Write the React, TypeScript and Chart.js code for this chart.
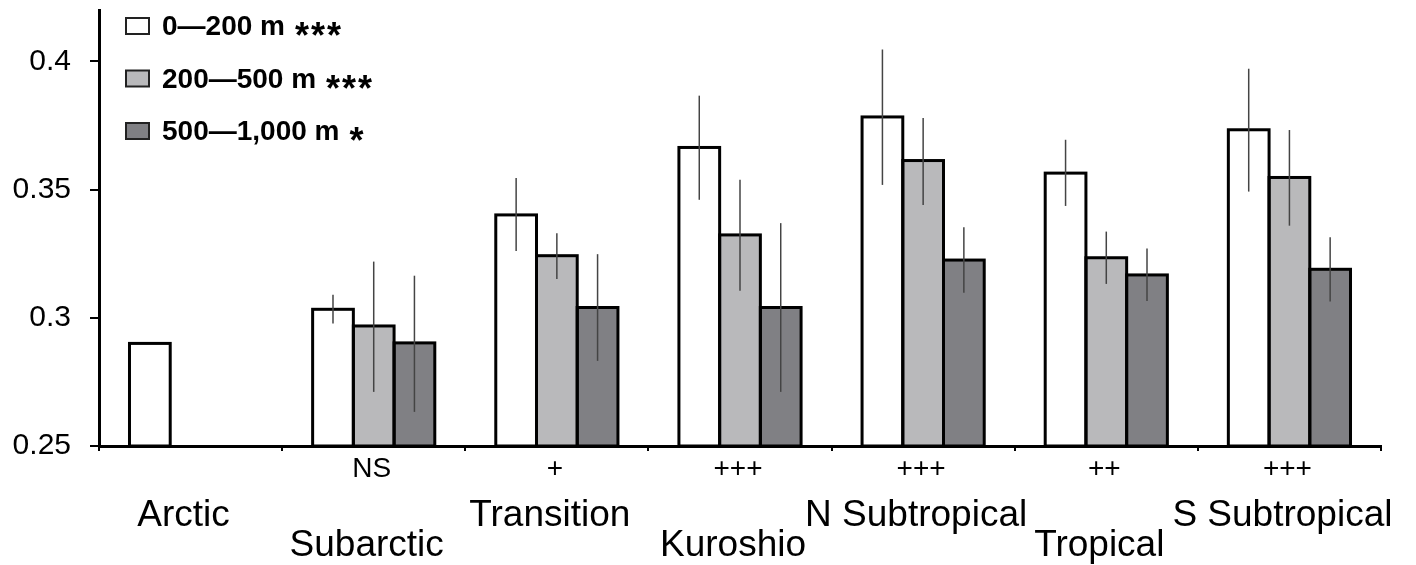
import React, { useEffect, useRef } from "react";
import { Chart, registerables } from "chart.js";

Chart.register(...registerables);

const categories = ["Arctic", "Subarctic", "Transition", "Kuroshio", "N Subtropical", "Tropical", "S Subtropical"];
const significance = ["", "NS", "+", "+++", "+++", "++", "+++"];

const seriesNames = ["0\u2014200 m", "200\u2014500 m", "500\u20141,000 m"];
const seriesStars = ["***", "***", "*"];
const seriesColors = ["#ffffff", "#b9b9bb", "#808084"];

const shallow = [0.29, 0.3033, 0.3401, 0.3664, 0.3783, 0.3564, 0.3733];
const shallowLow = [null, 0.2978, 0.326, 0.346, 0.3518, 0.3436, 0.3492];
const shallowHigh = [null, 0.309, 0.3545, 0.3866, 0.4046, 0.3694, 0.3971];

const middle = [null, 0.2968, 0.3242, 0.3323, 0.3613, 0.3234, 0.3547];
const middleLow = [null, 0.2711, 0.3151, 0.3105, 0.344, 0.3132, 0.3359];
const middleHigh = [null, 0.3219, 0.333, 0.3538, 0.3779, 0.3336, 0.3732];

const deep = [null, 0.2902, 0.304, 0.304, 0.3225, 0.3167, 0.3189];
const deepLow = [null, 0.2633, 0.2832, 0.2711, 0.3098, 0.3065, 0.3063];
const deepHigh = [null, 0.3164, 0.3248, 0.3369, 0.3353, 0.327, 0.3314];

const yTicks = [0.25, 0.3, 0.35, 0.4];
const yTickLabels = ["0.25", "0.3", "0.35", "0.4"];
const yMin = 0.25;
const yMax = 0.42;

const FONT = "'Liberation Sans', Arial, Helvetica, sans-serif";

const errorLows = [shallowLow, middleLow, deepLow];
const errorHighs = [shallowHigh, middleHigh, deepHigh];

const barsPlugin = {
  id: "barsOutlineErrors",
  afterDatasetsDraw(chart: any) {
    const ctx = chart.ctx;
    const yScale = chart.scales.y;
    const basePx = yScale.getPixelForValue(yMin);
    ctx.save();
    // outlines
    chart.data.datasets.forEach((ds: any, di: number) => {
      const meta = chart.getDatasetMeta(di);
      meta.data.forEach((bar: any, i: number) => {
        if (ds.data[i] == null) return;
        const p = bar.getProps(["x", "y", "width"], true);
        ctx.lineWidth = 3;
        ctx.strokeStyle = "#000";
        ctx.strokeRect(p.x - p.width / 2, p.y, p.width, basePx - p.y);
      });
    });
    // error bars
    chart.data.datasets.forEach((ds: any, di: number) => {
      const meta = chart.getDatasetMeta(di);
      meta.data.forEach((bar: any, i: number) => {
        const lo = errorLows[di][i];
        const hi = errorHighs[di][i];
        if (ds.data[i] == null || lo == null || hi == null) return;
        const p = bar.getProps(["x"], true);
        ctx.lineWidth = 1.5;
        ctx.strokeStyle = "#444";
        ctx.beginPath();
        ctx.moveTo(p.x, yScale.getPixelForValue(hi));
        ctx.lineTo(p.x, yScale.getPixelForValue(lo));
        ctx.stroke();
      });
    });
    ctx.restore();
  },
};

const labelsPlugin = {
  id: "customLabels",
  afterDraw(chart: any) {
    const ctx = chart.ctx;
    const xScale = chart.scales.x;
    const area = chart.chartArea;
    ctx.save();
    ctx.fillStyle = "#000";
    ctx.textAlign = "center";
    ctx.textBaseline = "alphabetic";
    categories.forEach((name, i) => {
      const cx = xScale.getPixelForValue(i);
      if (significance[i]) {
        ctx.font = `28px ${FONT}`;
        ctx.fillText(significance[i], cx - 2, area.bottom + 31);
      }
      ctx.font = `37px ${FONT}`;
      const row = i % 2 === 0 ? 0 : 1;
      ctx.fillText(name, cx - 7, area.bottom + (row === 0 ? 80 : 110));
    });

    // legend
    ctx.textAlign = "left";
    const boxX = area.left + 27;
    chart.data.datasets.forEach((ds: any, di: number) => {
      const baseline = area.top + 25 + di * 52.5;
      ctx.fillStyle = ds.backgroundColor;
      ctx.fillRect(boxX, baseline - 17, 23, 16);
      ctx.lineWidth = 2;
      ctx.strokeStyle = "#222";
      ctx.strokeRect(boxX, baseline - 17, 23, 16);
      ctx.fillStyle = "#000";
      ctx.font = `bold 28px ${FONT}`;
      const tx = boxX + 36;
      ctx.fillText(ds.label, tx, baseline);
      const w = ctx.measureText(ds.label).width;
      ctx.font = `bold 36px ${FONT}`;
      const stars = seriesStars[di];
      for (let k = 0; k < stars.length; k++) {
        ctx.fillText("*", tx + w + 10 + k * 16, baseline + 13);
      }
    });
    ctx.restore();
  },
};

export default function App() {
  const canvasRef = useRef<HTMLCanvasElement | null>(null);

  useEffect(() => {
    if (!canvasRef.current) return;
    Chart.defaults.font.family = FONT;
    const seriesData = [shallow, middle, deep];
    const chart = new Chart(canvasRef.current, {
      type: "bar",
      data: {
        labels: categories,
        datasets: seriesData.map((d, di) => ({
          label: seriesNames[di],
          data: d,
          backgroundColor: seriesColors[di],
          borderWidth: 0,
          categoryPercentage: 0.667,
          barPercentage: 1,
        })),
      },
      options: {
        animation: false,
        responsive: false,
        maintainAspectRatio: false,
        layout: { padding: { top: 10, right: 35, left: 0, bottom: 0 } },
        plugins: { legend: { display: false }, tooltip: { enabled: false } },
        scales: {
          x: {
            grid: {
              display: true,
              drawOnChartArea: false,
              drawTicks: true,
              tickLength: 5,
              color: "#000",
              lineWidth: 2,
              offset: true,
            },
            border: { display: true, color: "#000", width: 3 },
            ticks: { display: false },
            afterFit(scale: any) {
              scale.height = 119;
              scale.paddingLeft = 0;
              scale.paddingRight = 0;
            },
          },
          y: {
            min: yMin,
            max: yMax,
            afterBuildTicks(scale: any) {
              scale.ticks = yTicks.map((v) => ({ value: v }));
            },
            grid: {
              display: true,
              drawOnChartArea: false,
              drawTicks: true,
              tickLength: 9,
              color: "#000",
              lineWidth: 2,
            },
            border: { display: true, color: "#000", width: 3 },
            ticks: {
              padding: 19,
              color: "#000",
              font: { size: 30, family: FONT },
              callback: (value: any) => {
                const idx = yTicks.findIndex((t) => Math.abs(t - Number(value)) < 1e-9);
                return idx >= 0 ? yTickLabels[idx] : "";
              },
            },
            afterFit(scale: any) {
              scale.width = 99;
              scale.paddingTop = 0;
              scale.paddingBottom = 0;
            },
          },
        },
      },
      plugins: [barsPlugin, labelsPlugin],
    });
    return () => chart.destroy();
  }, []);

  return (
    <div style={{ position: "fixed", left: 0, top: 0, width: 1416, height: 565, background: "#fff" }}>
      <canvas ref={canvasRef} width={1416} height={565} style={{ width: 1416, height: 565, display: "block" }} />
    </div>
  );
}
